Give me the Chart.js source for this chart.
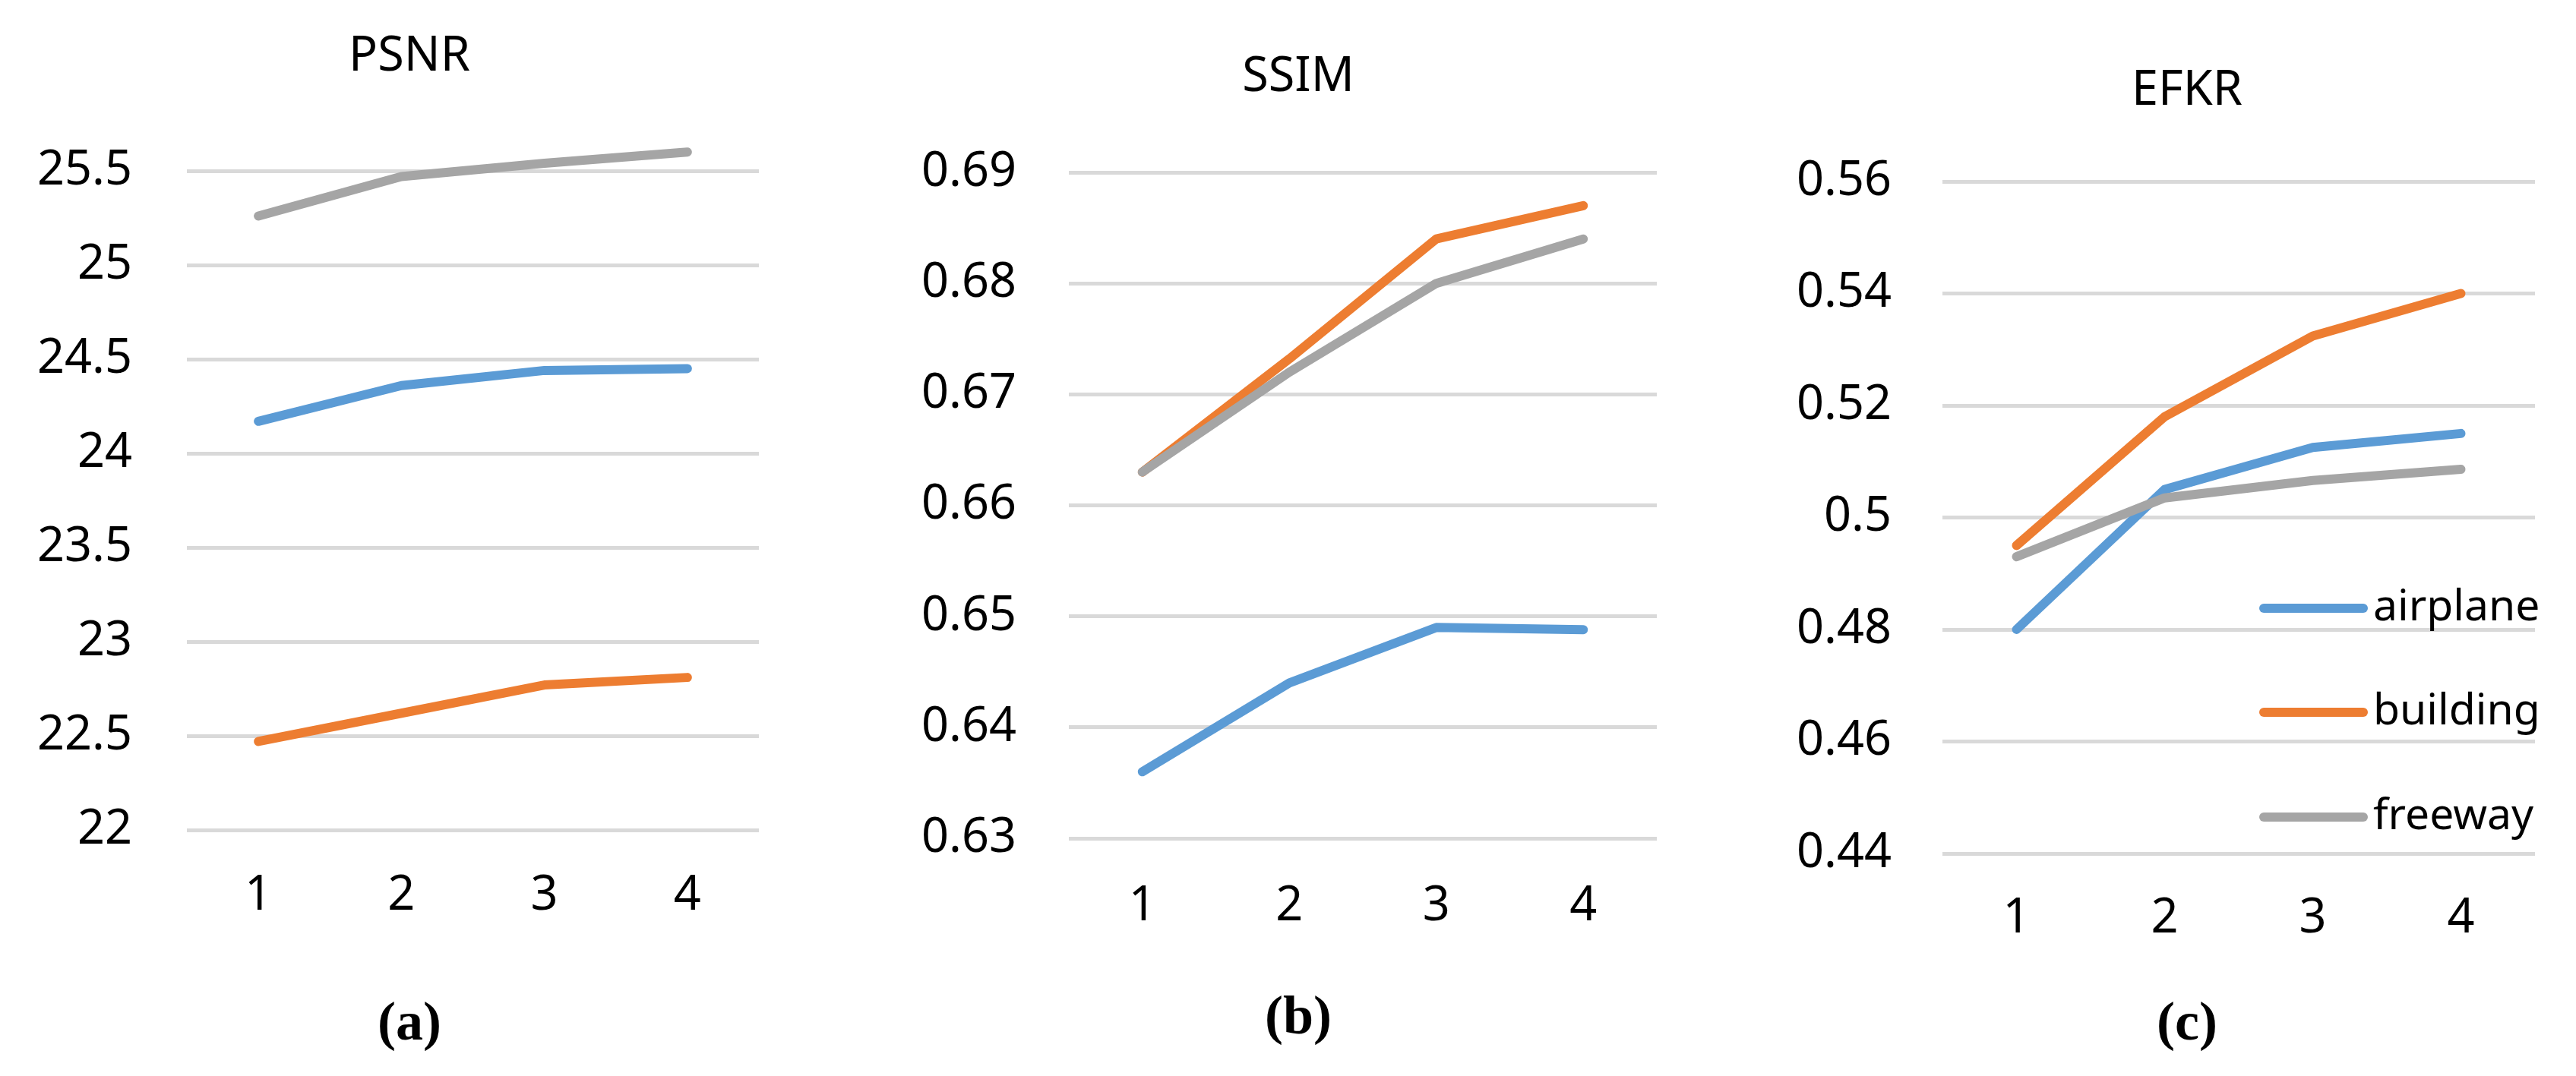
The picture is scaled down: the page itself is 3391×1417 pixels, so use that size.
<!DOCTYPE html>
<html>
<head>
<meta charset="utf-8">
<script src="https://cdn.jsdelivr.net/npm/chart.js@4.4.1/dist/chart.umd.min.js"></script>
<style>
  html, body { margin: 0; padding: 0; background: #fff; overflow: hidden; }
  canvas { position: absolute; top: 0; }
</style>
</head>
<body>
<canvas id="psnr"></canvas>
<canvas id="ssim"></canvas>
<canvas id="efkr"></canvas>
<script>
const categories = ['1', '2', '3', '4'];
const seriesNames = ['airplane', 'building', 'freeway'];
const seriesColors = ['#5B9BD5', '#ED7D31', '#A5A5A5'];

const psnrAirplane = [24.17, 24.36, 24.44, 24.45];
const psnrBuilding = [22.47, 22.62, 22.77, 22.81];
const psnrFreeway = [25.26, 25.47, 25.54, 25.60];
const psnrTicks = [22, 22.5, 23, 23.5, 24, 24.5, 25, 25.5];

const ssimAirplane = [0.636, 0.644, 0.649, 0.6488];
const ssimBuilding = [0.663, 0.6732, 0.684, 0.687];
const ssimFreeway = [0.663, 0.672, 0.680, 0.684];
const ssimTicks = [0.63, 0.64, 0.65, 0.66, 0.67, 0.68, 0.69];

const efkrAirplane = [0.480, 0.505, 0.5125, 0.515];
const efkrBuilding = [0.495, 0.518, 0.5324, 0.540];
const efkrFreeway = [0.493, 0.5035, 0.5066, 0.5086];
const efkrTicks = [0.44, 0.46, 0.48, 0.5, 0.52, 0.54, 0.56];

const sans = '"Noto Sans", "Open Sans", sans-serif';
const serif = '"Liberation Serif", serif';
const H = 1417;
const AXIS_H = 160;
const TICK_SIZE = 63;

// panel title, caption and the in-plot legend are drawn here
const panelText = {
    id: 'panelText',
    afterDraw(chart) {
        const o = chart.options.plugins.panelText;
        const ctx = chart.ctx;
        ctx.save();
        ctx.textBaseline = 'middle';
        ctx.textAlign = 'center';
        ctx.fillStyle = '#000';
        ctx.font = '63px ' + sans;
        ctx.fillText(o.title, o.titleX, o.titleY);
        ctx.font = 'bold 72px ' + serif;
        ctx.fillText(o.caption, o.capX, o.capY);
        if (o.legend) {
            const lg = o.legend;
            seriesNames.forEach((name, i) => {
                const y = lg.rows[i];
                ctx.strokeStyle = seriesColors[i];
                ctx.lineWidth = 12;
                ctx.lineCap = 'round';
                ctx.beginPath();
                ctx.moveTo(lg.x0, y);
                ctx.lineTo(lg.x1, y);
                ctx.stroke();
                ctx.fillStyle = '#000';
                ctx.font = '57px ' + sans;
                ctx.textAlign = 'left';
                ctx.fillText(name, lg.tx, y);
            });
        }
        ctx.restore();
    }
};

function makePanel(id, p) {
    const canvas = document.getElementById(id);
    canvas.width = p.width;
    canvas.height = H;
    canvas.style.left = p.left + 'px';
    canvas.style.width = p.width + 'px';
    canvas.style.height = H + 'px';

    const tickLH = TICK_SIZE * 1.2;
    const values = [p.airplane, p.building, p.freeway];

    new Chart(canvas, {
        type: 'line',
        data: {
            labels: categories,
            datasets: seriesNames.map((name, i) => ({
                label: name,
                data: values[i],
                borderColor: seriesColors[i],
                backgroundColor: seriesColors[i],
                borderWidth: 12,
                borderCapStyle: 'round',
                borderJoinStyle: 'round',
                pointRadius: 0,
                tension: 0,
                clip: false,
                order: 2 - i
            }))
        },
        options: {
            responsive: false,
            animation: false,
            layout: { padding: { left: 0, right: p.width - p.plotR, top: p.top, bottom: H - p.bottom - AXIS_H } },
            plugins: {
                legend: { display: false },
                tooltip: { enabled: false },
                panelText: {
                    title: p.title, titleX: p.titleX, titleY: p.titleY,
                    caption: p.caption, capX: p.titleX, capY: p.capY,
                    legend: p.legend
                }
            },
            scales: {
                x: {
                    offset: true,
                    grid: { display: false, drawTicks: false, tickLength: 0 },
                    border: { display: false },
                    ticks: {
                        color: '#000',
                        font: { family: sans, size: TICK_SIZE, lineHeight: 1.2 },
                        padding: p.labelY - p.bottom - tickLH / 2,
                        maxRotation: 0
                    },
                    afterFit(scale) { scale.height = AXIS_H; }
                },
                y: {
                    min: p.ticks[0],
                    max: p.ticks[p.ticks.length - 1],
                    grid: { color: '#D9D9D9', lineWidth: 5, drawTicks: false, tickLength: 0 },
                    border: { display: false },
                    ticks: {
                        color: '#000',
                        font: { family: sans, size: TICK_SIZE, lineHeight: 1.2 },
                        padding: p.plotL - p.tickRight,
                        callback: v => String(v)
                    },
                    afterBuildTicks(scale) { scale.ticks = p.ticks.map(v => ({ value: v })); },
                    afterFit(scale) { scale.width = p.plotL; }
                }
            }
        },
        plugins: [panelText]
    });
}

makePanel('psnr', {
    left: 0, width: 1130, title: 'PSNR', caption: '(a)',
    airplane: psnrAirplane, building: psnrBuilding, freeway: psnrFreeway, ticks: psnrTicks,
    plotL: 246, plotR: 999, top: 225, bottom: 1093,
    titleX: 539, titleY: 75, tickRight: 174, labelY: 1180, capY: 1350
});
makePanel('ssim', {
    left: 1130, width: 1130, title: 'SSIM', caption: '(b)',
    airplane: ssimAirplane, building: ssimBuilding, freeway: ssimFreeway, ticks: ssimTicks,
    plotL: 277, plotR: 1051, top: 227, bottom: 1104,
    titleX: 579, titleY: 102, tickRight: 208, labelY: 1194, capY: 1342
});
makePanel('efkr', {
    left: 2260, width: 1131, title: 'EFKR', caption: '(c)',
    airplane: efkrAirplane, building: efkrBuilding, freeway: efkrFreeway, ticks: efkrTicks,
    plotL: 297, plotR: 1077, top: 239, bottom: 1124,
    titleX: 619, titleY: 120, tickRight: 230, labelY: 1210, capY: 1350,
    legend: { x0: 720, x1: 851, tx: 864, rows: [801, 938, 1076] }
});
</script>
</body>
</html>
